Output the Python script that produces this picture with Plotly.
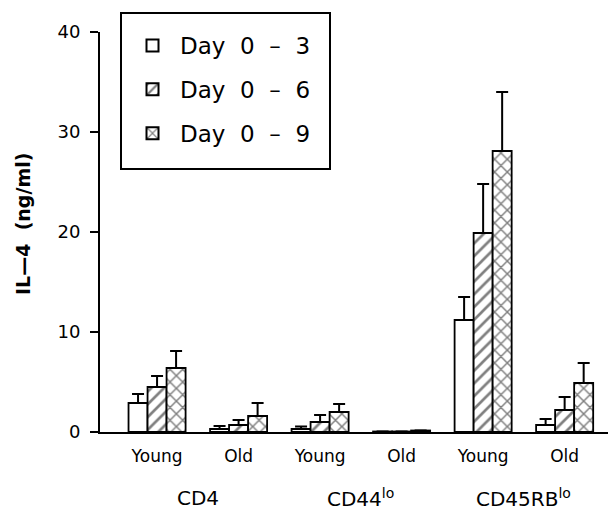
import plotly.graph_objects as go

groups = ["CD4", "CD44<sup>lo</sup>", "CD45RB<sup>lo</sup>"]
ages = ["Young", "Old", "Young", "Old", "Young", "Old"]
nb = "\u00a0\u00a0"
series_names = [f"Day{nb}0{nb}\u2013{nb}3", f"Day{nb}0{nb}\u2013{nb}6", f"Day{nb}0{nb}\u2013{nb}9"]
day3 = [2.9, 0.3, 0.3, 0.05, 11.2, 0.7]
day3_err = [0.9, 0.3, 0.25, 0.0, 2.3, 0.6]
day6 = [4.5, 0.7, 1.0, 0.05, 19.9, 2.2]
day6_err = [1.1, 0.5, 0.7, 0.0, 4.9, 1.3]
day9 = [6.4, 1.6, 2.0, 0.15, 28.1, 4.9]
day9_err = [1.7, 1.3, 0.8, 0.0, 5.9, 2.0]

xs = list(range(len(ages)))
patterns = ["", "/", "x"]
fig = go.Figure()
for i, (name, vals, errs) in enumerate(zip(series_names, [day3, day6, day9], [day3_err, day6_err, day9_err])):
    fig.add_trace(go.Bar(
        x=xs, y=vals, name=name, legendgroup=f"g{i}",
        marker=dict(color="white", line=dict(color="black", width=1.8),
                    pattern=dict(shape=patterns[i], fgcolor="black", bgcolor="white",
                                 size=9, solidity=0.3, fillmode="overlay")),
        error_y=dict(type="data", array=errs, arrayminus=[0]*len(errs), symmetric=False,
                     color="black", thickness=2, width=6),
    ))

PW, PH = 516, 400  # plot area size in px
fig.update_layout(
    width=608, height=502,
    margin=dict(l=92, r=0, t=24, b=78, autoexpand=False),
    paper_bgcolor="white", plot_bgcolor="white",
    barmode="group", bargap=0.3, bargroupgap=0,
    font=dict(family="DejaVu Sans, Liberation Sans, sans-serif", color="black"),
    showlegend=True,
    legend=dict(x=(125 - 100) / PW, y=1 + (32 - 24) / PH, xanchor="left", yanchor="top",
                borderwidth=0, bgcolor="rgba(0,0,0,0)",
                font=dict(size=23), traceorder="grouped", tracegroupgap=11,
                itemsizing="constant", itemwidth=45),
    shapes=[dict(type="rect", xref="paper", yref="paper",
                 x0=(121 - 100) / PW, x1=(330 - 100) / PW,
                 y0=(432 - 169) / PH, y1=(432 - 13) / PH,
                 line=dict(color="black", width=2), fillcolor="white", layer="below")],
)
fig.update_xaxes(range=[-0.7, 5.63], tickmode="array", tickvals=xs, ticktext=ages,
                 showgrid=False, zeroline=False, showline=True, linecolor="black", linewidth=2,
                 ticks="", tickfont=dict(size=17), ticklabelstandoff=8, fixedrange=True)
fig.update_yaxes(range=[0, 40], tickvals=[0, 10, 20, 30, 40], showgrid=False, zeroline=False,
                 showline=True, linecolor="black", linewidth=2, ticks="outside", ticklen=8,
                 tickwidth=2, tickcolor="black", tickfont=dict(size=18), ticklabelstandoff=6,
                 fixedrange=True)

fig.add_annotation(x=(23 - 100) / PW, y=(432 - 224) / PH, xref="paper", yref="paper",
                   text="IL\u20144\u00a0\u00a0(ng/ml)", textangle=-90, showarrow=False,
                   xanchor="center", yanchor="middle", font=dict(size=19, weight="bold"))

group_centers = [0.5, 2.5, 4.5]
for g, c in zip(groups, group_centers):
    fig.add_annotation(x=c, y=0, xref="x", yref="paper", yshift=-66, text=g, showarrow=False,
                       font=dict(size=20), yanchor="middle")

fig.write_html("out.html")
